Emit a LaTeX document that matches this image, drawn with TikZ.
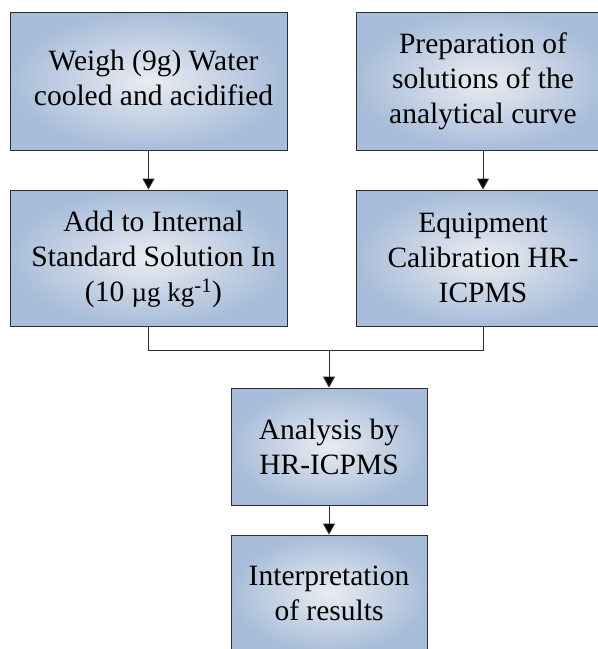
\documentclass[tikz,border=0pt]{standalone}
\usepackage{fontspec}
\setmainfont{Liberation Serif}
\usetikzlibrary{arrows.meta}
\definecolor{inn}{RGB}{233,236,241}
\definecolor{out}{RGB}{168,189,217}
\definecolor{edgec}{RGB}{45,45,45}
\newcommand{\padtext}[2]{\begin{tabular}{@{\hspace{10pt}}c@{}}#1#2\end{tabular}}
\begin{document}
\begin{tikzpicture}[x=1pt,y=-1pt,
  box/.style={draw=edgec, line width=0.9pt, inner color=inn, outer color=out,
    align=center, inner sep=0pt, font=\fontsize{29.5}{35}\selectfont},
  arr/.style={draw=edgec, line width=0.9pt, -{Triangle[length=11pt,width=12pt,fill=black]}},
  link/.style={draw=edgec, line width=0.9pt}]
\useasboundingbox (0,0) rectangle (598,649);
\clip (0,0) rectangle (598,649);
\node[box, minimum width=277pt, minimum height=138pt] (tl) at (148.5,81)
  {\padtext{}{Weigh (9g) Water\\cooled and acidified}};
\node[box, minimum width=254pt, minimum height=138pt] (tr) at (483,81)
  {Preparation of\\solutions of the\\analytical curve};
\node[box, minimum width=277pt, minimum height=136pt] (ml) at (148.5,258)
  {\padtext{\rule{0pt}{27pt}}{Add to Internal\\Standard Solution In\\(10 {\fontsize{27}{35}\selectfont µg kg}\textsuperscript{-1})}};
\node[box, minimum width=254pt, minimum height=136pt] (mr) at (483,258)
  {Equipment\\Calibration HR-\\ICPMS};
\node[box, minimum width=196pt, minimum height=117pt] (an) at (329,446.5)
  {Analysis by\\HR-ICPMS};
\node[box, minimum width=196pt, minimum height=117pt] (ip) at (329,593.5)
  {Interpretation\\of results};
\coordinate (j) at (329,350);
\draw[arr] (tl.south) -- (ml.north);
\draw[arr] (tr.south) -- (mr.north);
\draw[link] (ml.south) |- (j);
\draw[link] (mr.south) |- (j);
\draw[arr] (j) -- (an.north);
\draw[arr] (an.south) -- (ip.north);
\end{tikzpicture}
\end{document}
